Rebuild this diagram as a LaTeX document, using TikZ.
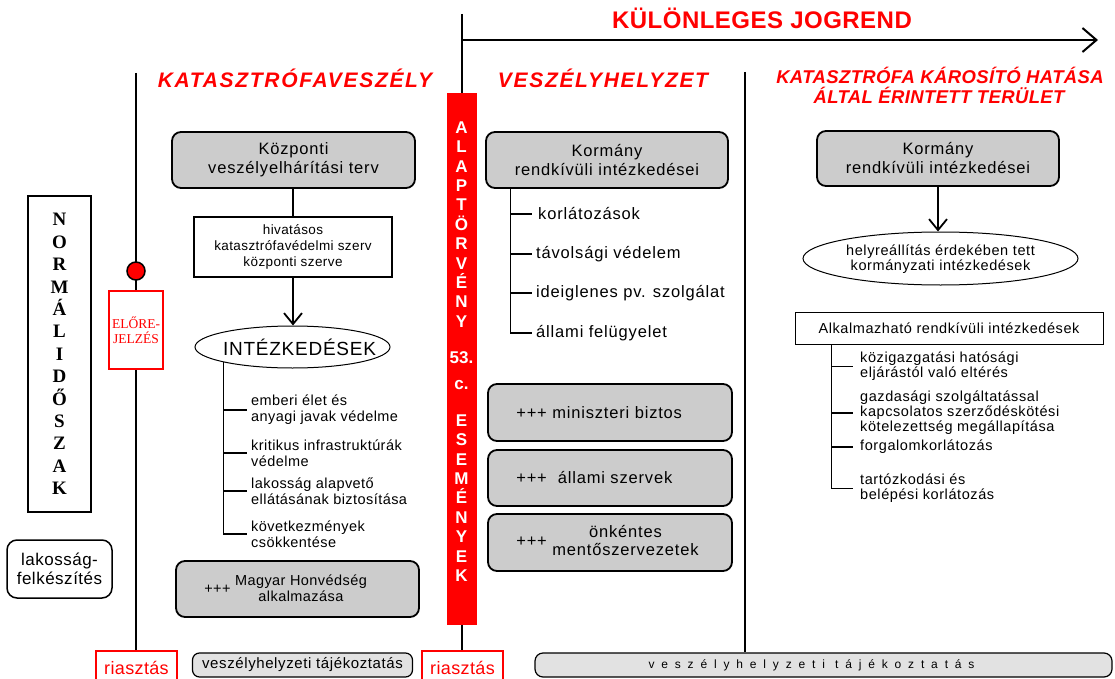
\documentclass[tikz,border=0pt]{standalone}
\usepackage{fontspec}
\setmainfont{Liberation Sans}
\newfontfamily\bxf[LetterSpace=5]{Liberation Sans}
\newfontfamily\smf[LetterSpace=3]{Liberation Sans}
\newfontfamily\smr[LetterSpace=4]{Liberation Sans}
\newfontfamily\ttlA[LetterSpace=8]{Liberation Sans}
\newfontfamily\ttlB[LetterSpace=2]{Liberation Sans}
\newfontfamily\ttlC[LetterSpace=2]{Liberation Sans}
\newfontfamily\intf[LetterSpace=4]{Liberation Sans}
\newfontfamily\lakf[LetterSpace=3]{Liberation Sans}
\newfontfamily\riaf[LetterSpace=2]{Liberation Sans}
\newfontfamily\tajf[LetterSpace=4]{Liberation Sans}
\newfontfamily\widef[LetterSpace=57]{Liberation Sans}
\newfontfamily\serf{Liberation Serif}
\usetikzlibrary{arrows.meta,calc,shapes.geometric}
\definecolor{bxgray}{RGB}{204,204,204}
\definecolor{bxlight}{RGB}{226,226,226}
\pgfdeclarelayer{bg}
\pgfsetlayers{bg,main}
\tikzset{
  every node/.style={inner sep=0pt},
  graybox/.style={draw, line width=1.8pt, rounded corners=9pt, fill=bxgray, align=center,
    font=\bxf\fontsize{16.5}{19}\selectfont},
  plainbox/.style={draw, fill=white, align=center},
  redbox/.style={draw=red, line width=2pt, fill=white, text=red},
  ttl/.style={text=red, anchor=base},
  itemL/.style={anchor=west, align=left, font=\smf\fontsize{14.5}{16}\selectfont},
  itemM/.style={anchor=west, align=left, font=\bxf\fontsize{16.5}{19}\selectfont},
  itemR/.style={anchor=west, align=left, font=\smr\fontsize{14.5}{15}\selectfont},
  vline/.style={line width=2pt},
  conn/.style={line width=1.8pt},
  tree/.style={line width=1.2pt},
  barb/.style={-{Straight Barb[length=11pt,width=18pt]}},
  bartext/.style={text=white, align=center, font=\bfseries\fontsize{17}{19.4}\selectfont},
}
\begin{document}
\begin{tikzpicture}[x=1pt,y=-1pt]
\useasboundingbox (0,0) rectangle (1115,679);
\clip (0,0) rectangle (1115,679);
\begin{pgfonlayer}{bg}
\fill[white] (0,0) rectangle (1115,679);
\end{pgfonlayer}
% free ends of the time lines
\coordinate (ltop) at (136,73);
\coordinate (mtop) at (462,14);
\coordinate (rtop) at (745,72);
\coordinate (jstart) at (462,40);
\coordinate (jend) at (1098,40);
% titles
\node[ttl, font=\ttlC\bfseries\fontsize{24}{28}\selectfont] (kul) at (762,29) {KÜLÖNLEGES JOGREND};
\node[ttl, font=\ttlA\bfseries\itshape\fontsize{21}{24}\selectfont] (t1) at (295,88) {KATASZTRÓFAVESZÉLY};
\node[ttl, font=\ttlA\bfseries\itshape\fontsize{21}{24}\selectfont] (t2) at (603,88) {VESZÉLYHELYZET};
\node[ttl, font=\ttlB\bfseries\itshape\fontsize{18.5}{20}\selectfont] (t3a) at (940,84) {KATASZTRÓFA KÁROSÍTÓ HATÁSA};
\node[ttl, font=\ttlB\bfseries\itshape\fontsize{18.5}{20}\selectfont] (t3b) at (939,104) {ÁLTAL ÉRINTETT TERÜLET};
% left part
\node[draw, line width=1.8pt, minimum width=63pt, minimum height=316pt, align=center,
      font=\serf\bfseries\fontsize{19}{22.4}\selectfont] (norm) at (59.5,354)
  {N\\O\\R\\M\\Á\\L\\I\\D\\Ő\\S\\Z\\A\\K};
\node[draw, line width=1.5pt, rounded corners=10pt, fill=white, minimum width=105pt, minimum height=58pt,
      align=center, font=\lakf\fontsize{17}{19}\selectfont] (lak) at (59.5,569) {lakosság-\\felkészítés};
\node[redbox, minimum width=54pt, minimum height=78pt, inner sep=1pt, align=center,
      font=\serf\fontsize{13.5}{15}\selectfont] (elo) at (136,330) {ELŐRE-\\JELZÉS};
% katasztrófaveszély column
\node[graybox, minimum width=243pt, minimum height=56pt] (kozp) at (293.5,160) {Központi\\veszélyelhárítási terv};
\node[plainbox, line width=1.5pt, minimum width=198pt, minimum height=60pt,
      font=\smf\fontsize{13.5}{16}\selectfont] (hiv) at (293,247) {hivatásos\\katasztrófavédelmi szerv\\központi szerve};
\node[draw, ellipse, line width=1pt, fill=white, minimum width=195pt, minimum height=42pt] (int) at (292.5,347) {};
\node[font=\intf\fontsize{19}{20}\selectfont] (inttxt) at ($(int.center)+(7,0)$) {INTÉZKEDÉSEK};
\node[itemL] (l1) at (251,410) {emberi élet és\\anyagi javak védelme};
\node[itemL] (l2) at (251,453) {kritikus infrastruktúrák\\védelme};
\node[itemL] (l3) at (251,491) {lakosság alapvető\\ellátásának biztosítása};
\node[itemL] (l4) at (251,534) {következmények\\csökkentése};
\node[graybox, minimum width=243pt, minimum height=56pt] (mh) at (297.5,589) {};
\node[anchor=west, font=\smf\fontsize{14.5}{16.5}\selectfont] (mhtxt) at ($(mh.west)+(29,1)$)
  {+++ \begin{tabular}{@{}c@{}}Magyar Honvédség\\alkalmazása\end{tabular}};
% red bar
\node[fill=red, minimum width=30pt, minimum height=532pt] (bar) at (461.5,359) {};
\node[bartext] (bartxt) at (461.5,351.5)
  {A\\L\\A\\P\\T\\Ö\\R\\V\\É\\N\\Y\\[16.6pt]53.\\[6.6pt]c.\\[17.6pt]E\\S\\E\\M\\É\\N\\Y\\E\\K};
% veszélyhelyzet column
\node[graybox, minimum width=242pt, minimum height=56pt] (korm1) at (607,160) {Kormány\\rendkívüli intézkedései};
\node[itemM] (m1) at (538,214) {korlátozások};
\node[itemM] (m2) at (536,254) {távolsági védelem};
\node[itemM] (m3) at (536,293) {ideiglenes pv. szolgálat};
\node[itemM] (m4) at (536,333) {állami felügyelet};
\node[graybox, minimum width=244pt, minimum height=57pt] (mb1) at (610,412.5) {};
\node[anchor=west, font=\bxf\fontsize{16.5}{19}\selectfont] (mb1t) at ($(mb1.west)+(29,0)$) {+++ miniszteri biztos};
\node[graybox, minimum width=244pt, minimum height=56pt] (mb2) at (610,478) {};
\node[anchor=west, font=\bxf\fontsize{16.5}{19}\selectfont] (mb2t) at ($(mb2.west)+(29,0)$) {+++\hspace{11pt}állami szervek};
\node[graybox, minimum width=244pt, minimum height=57pt] (mb3) at (610,542.5) {};
\node[anchor=west, font=\bxf\fontsize{16.5}{18}\selectfont] (mb3t) at ($(mb3.west)+(29,0)$)
  {+++ \begin{tabular}{@{}c@{}}önkéntes\\mentőszervezetek\end{tabular}};
% right column
\node[graybox, minimum width=242pt, minimum height=55pt] (korm2) at (938,158.5) {Kormány\\rendkívüli intézkedései};
\node[draw, ellipse, line width=1pt, fill=white, minimum width=275pt, minimum height=53pt] (hely) at (940.5,258.5) {};
\node[align=center, font=\smr\fontsize{14.5}{15}\selectfont] (helytxt) at ($(hely.center)+(0,1)$)
  {helyreállítás érdekében tett\\kormányzati intézkedések};
\node[plainbox, line width=1pt, minimum width=308pt, minimum height=32pt,
      font=\smr\fontsize{14.5}{16}\selectfont] (alk) at (949,328) {Alkalmazható rendkívüli intézkedések};
\node[itemR] (r1) at (860,366.5) {közigazgatási hatósági\\eljárástól való eltérés};
\node[itemR] (r2) at (860,413) {gazdasági szolgáltatással\\kapcsolatos szerződéskötési\\kötelezettség megállapítása};
\node[itemR] (r3) at (860,447) {forgalomkorlátozás};
\node[itemR] (r4) at (860,488.5) {tartózkodási és\\belépési korlátozás};
% bottom row
\node[redbox, minimum width=81pt, minimum height=34pt, anchor=north, font=\riaf\fontsize{18}{20}\selectfont] (ria1) at (136.5,650) {riasztás};
\node[redbox, minimum width=81pt, minimum height=34pt, anchor=north, font=\riaf\fontsize{18}{20}\selectfont] (ria2) at (462.5,650) {riasztás};
\node[draw, line width=1.2pt, rounded corners=7pt, fill=bxlight, minimum width=220pt, minimum height=24pt,
      font=\tajf\fontsize{15}{18}\selectfont] (taj1) at (302.5,665) {veszélyhelyzeti tájékoztatás};
\node[draw, line width=1.2pt, rounded corners=8pt, fill=bxlight, minimum width=577pt, minimum height=24pt,
      font=\widef\fontsize{12}{14}\selectfont] (taj2) at (823.5,665) {veszélyhelyzeti tájékoztatás\hspace*{24pt}};
\node[circle, draw, line width=1.5pt, fill=red, minimum size=18pt] (dot) at (136,271) {};
% time lines behind the boxes
\begin{pgfonlayer}{bg}
\draw[vline] (ltop) -- (ltop |- ria1.north);
\draw[vline] (mtop) -- (mtop |- ria2.north);
\draw[vline] (rtop) -- (rtop |- taj2.north);
\end{pgfonlayer}
\draw[vline, -{Straight Barb[length=14pt,width=24pt]}] (jstart) -- (jend);
% connectors
\draw[conn] (hiv.north) -- (hiv.north |- kozp.south);
\draw[conn, barb] (hiv.south) -- (hiv.south |- int.north);
\draw[conn, barb] (korm2.south) -- (korm2.south |- hely.north);
% trees
\draw[tree] (int.south west) |- ([xshift=-4pt]l4.west);
\foreach \n in {l1,l2,l3} \draw[tree] (int.south west |- \n.west) -- ([xshift=-4pt]\n.west);
\coordinate (mtrunk) at ($(korm1.south west)+(25,0)$);
\draw[tree] (mtrunk) |- ([xshift=-4pt]m4.west);
\draw[tree] (mtrunk |- m1.west) -- ([xshift=-6pt]m1.west);
\foreach \n in {m2,m3} \draw[tree] (mtrunk |- \n.west) -- ([xshift=-4pt]\n.west);
\coordinate (rtrunk) at ($(alk.south west)+(37,0)$);
\draw[tree] (rtrunk) |- ([xshift=-7pt]r4.west);
\foreach \n in {r1,r2,r3} \draw[tree] (rtrunk |- \n.west) -- ([xshift=-7pt]\n.west);
\end{tikzpicture}
\end{document}
